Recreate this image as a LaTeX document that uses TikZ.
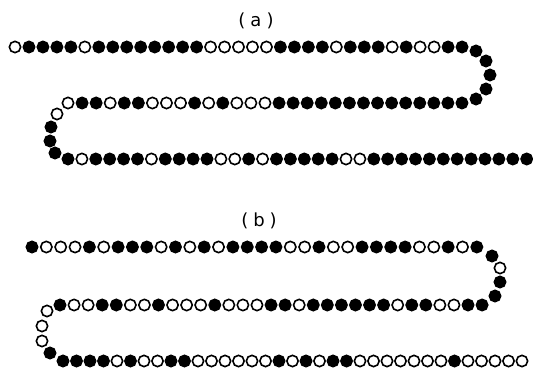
\documentclass[tikz,border=0pt]{standalone}
\usepackage{fontspec}
\setmainfont{DejaVu Sans}
\tikzset{
  bead/.style={circle, inner sep=0pt, minimum size=11.3pt, line width=1.6pt, draw=black},
  F/.style={bead, fill=black},
  O/.style={bead, fill=white},
  lab/.style={font=\fontsize{18}{20}\selectfont, inner sep=0pt}
}
\newcommand\beadrow[5]{%
  \foreach \t [count=\i] in {#5} {
    \node[\t] (#1-\i) at ({#2+(\i-1)*#4}, #3) {};
  }%
}
\begin{document}
\begin{tikzpicture}[x=1pt, y=-1pt]
\useasboundingbox (0,0) rectangle (533,374);
% ---------- (a) ----------
\node[lab] (la) at (256,21) {(\hspace{5pt}a\hspace{5pt})};
\beadrow{at}{15}{47}{13.97}{O,F,F,F,F,O,F,F,F,F,F,F,F,F,O,O,O,O,O,F,F,F,F,O,F,F,F,O,F,O,O,F,F}
\node[F] (ar1) at (476,51) {};
\node[F] (ar2) at (486,61) {};
\node[F] (ar3) at (490,75) {};
\node[F] (ar4) at (486,89) {};
\node[F] (ar5) at (476,99) {};
\beadrow{am}{68}{103}{14.07}{O,F,F,O,F,F,O,O,O,F,O,F,O,O,O,F,F,F,F,F,F,F,F,F,F,F,F,F,F}
\node[O] (al1) at (57,114) {};
\node[F] (al2) at (51,127) {};
\node[F] (al3) at (50,141) {};
\node[F] (al4) at (55,153) {};
\beadrow{ab}{68}{159}{13.9}{F,O,F,F,F,F,O,F,F,F,F,O,O,F,O,F,F,F,F,F,O,O,F,F,F,F,F,F,F,F,F,F,F,F}
% ---------- (b) ----------
\node[lab] (lb) at (259,221) {(\hspace{5pt}b\hspace{5pt})};
\beadrow{bt}{32}{247}{14.35}{F,O,O,O,F,O,F,F,F,O,F,O,F,O,F,F,F,F,O,O,F,O,O,F,F,F,F,O,O,F,O,F}
\node[F] (br1) at (492,256) {};
\node[O] (br2) at (500,268) {};
\node[F] (br3) at (500,282) {};
\node[F] (br4) at (495,296) {};
\beadrow{bm}{60}{305}{14.07}{F,O,O,F,F,O,O,F,O,O,O,F,O,O,O,F,F,O,F,F,F,F,F,F,O,F,F,O,O,F,F}
\node[O] (bl1) at (47,311) {};
\node[O] (bl2) at (42,326) {};
\node[O] (bl3) at (42,341) {};
\node[F] (bl4) at (50,353) {};
\beadrow{bb}{63}{361}{13.5}{F,F,F,F,O,F,O,O,F,F,O,O,O,O,O,O,F,O,F,O,F,F,O,O,O,O,O,O,O,F,O,O,O,O,O}
\end{tikzpicture}
\end{document}
